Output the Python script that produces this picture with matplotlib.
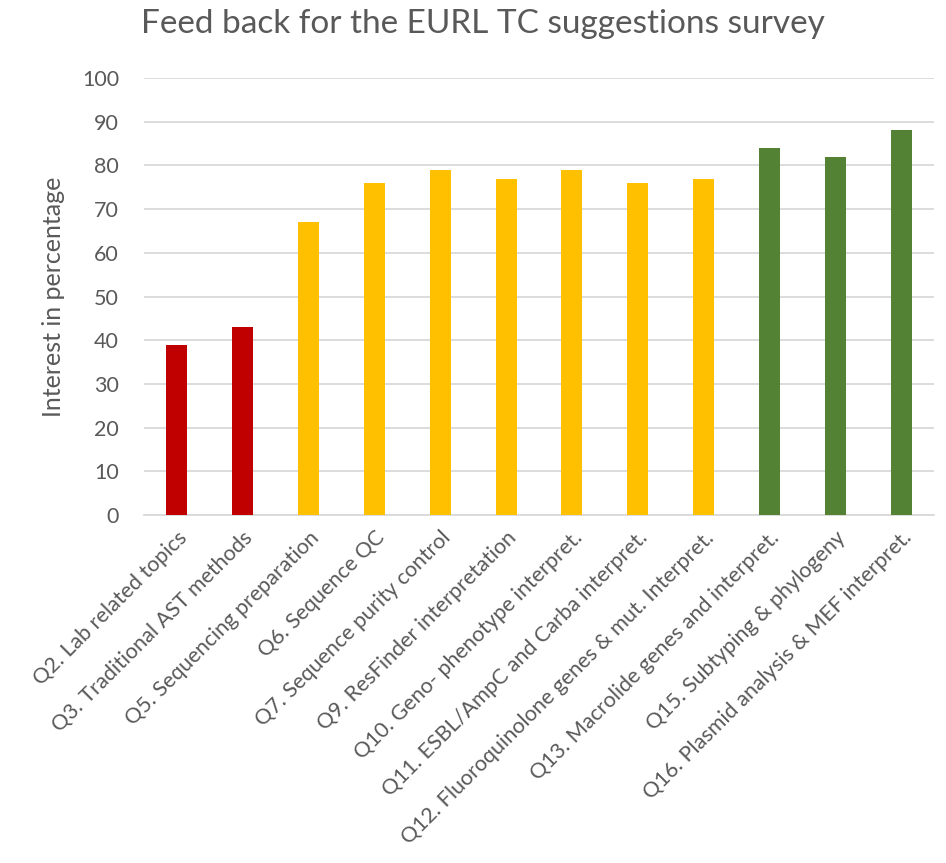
import matplotlib.pyplot as plt

plt.rcParams['font.family'] = ['Lato', 'DejaVu Sans']

# survey questions and share of respondents interested
questions = [
    "Q2. Lab related topics",
    "Q3. Traditional AST methods",
    "Q5. Sequencing preparation",
    "Q6. Sequence QC",
    "Q7. Sequence purity control",
    "Q9. ResFinder interpretation",
    "Q10. Geno- phenotype interpret.",
    "Q11. ESBL/AmpC and Carba interpret.",
    "Q12. Fluoroquinolone genes & mut. Interpret.",
    "Q13. Macrolide genes and interpret.",
    "Q15. Subtyping & phylogeny",
    "Q16. Plasmid analysis & MEF interpret.",
]
interest = [39, 43, 67, 76, 79, 77, 79, 76, 77, 84, 82, 88]
bar_colors = ["#C00000"] * 2 + ["#FFC000"] * 7 + ["#548235"] * 3

text_col = "#595959"

fig = plt.figure(figsize=(9.46, 8.63), dpi=100)
ax = fig.add_axes([0.1522, 0.4032, 0.8351, 0.5064])

x = range(len(questions))
ax.bar(x, interest, width=0.32, color=bar_colors, zorder=3)

ax.set_xlim(-0.5, len(questions) - 0.5)
ax.set_ylim(0, 100)
ax.set_yticks(range(0, 101, 10))
ax.yaxis.grid(True, color="#D9D9D9", linewidth=1.3, zorder=0)

for s in ["top", "right", "left"]:
    ax.spines[s].set_visible(False)
ax.spines["bottom"].set_color("#D9D9D9")
ax.spines["bottom"].set_linewidth(1.3)

ax.tick_params(axis="both", length=0, labelsize=15.5, labelcolor=text_col)
ax.tick_params(axis="y", pad=18)
ax.set_xticks(list(x))
ax.set_xticklabels(questions, rotation=45, ha="right", rotation_mode="anchor")
ax.tick_params(axis="x", pad=9)

ax.set_ylabel("Interest in percentage", fontsize=18, color=text_col, labelpad=12)
fig.text(0.511, 0.99, "Feed back for the EURL TC suggestions survey",
         ha="center", va="top", fontsize=24, color=text_col)

fig.savefig("out.png", dpi=100)
